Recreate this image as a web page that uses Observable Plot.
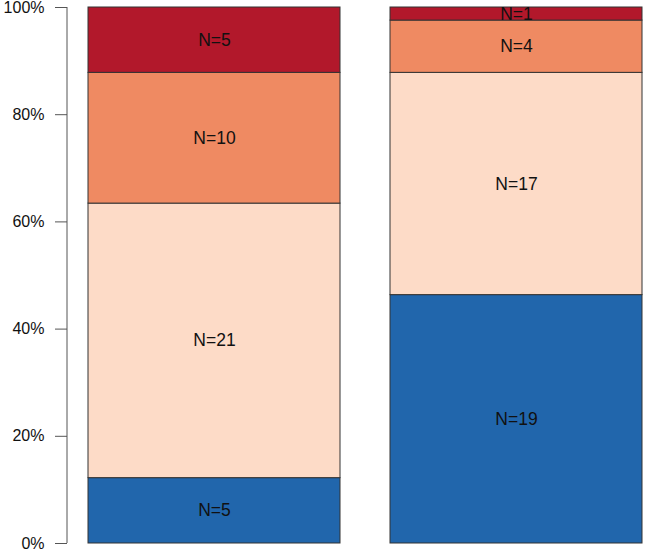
<!DOCTYPE html>
<html>
<head>
<meta charset="utf-8">
<script src="https://cdn.jsdelivr.net/npm/d3@7"></script>
<script src="https://cdn.jsdelivr.net/npm/@observablehq/plot@0.6"></script>
<style>
  html, body { margin: 0; padding: 0; background: #fff; }
  #chart svg { display: block; }
</style>
</head>
<body>
<div id="chart"></div>
<script>
const groups = ["A", "B"];
const categories = ["c1", "c2", "c3", "c4"];
const colors = ["#2166AC", "#FDDBC7", "#EF8A62", "#B2182B"];
const countsA = [5, 21, 10, 5];
const countsB = [19, 17, 4, 1];
const yTicks = [0, 0.2, 0.4, 0.6, 0.8, 1];

const data = [];
[countsA, countsB].forEach((counts, gi) => {
  counts.forEach((n, ci) => data.push({group: groups[gi], category: categories[ci], n}));
});

const font = "Liberation Sans, Arial, Helvetica, sans-serif";

const plot = Plot.plot({
  width: 645,
  height: 552,
  marginLeft: 88,
  marginRight: 3,
  marginTop: 7,
  marginBottom: 9,
  style: {fontFamily: font, fontSize: "16px", background: "#fff"},
  x: {domain: groups, paddingInner: 1/6, paddingOuter: 0, axis: null},
  y: {domain: [0, 1], axis: null},
  color: {domain: categories, range: colors},
  marks: [
    Plot.barY(data, Plot.stackY({
      x: "group", y: "n", fill: "category", offset: "normalize",
      stroke: "#333", strokeWidth: 1, inset: 0
    })),
    Plot.text(data, Plot.stackY({
      x: "group", y: "n", offset: "normalize",
      text: d => "N=" + d.n, fill: "#111", fontSize: 17.5, fontFamily: font
    })),
    Plot.axisY({
      ticks: yTicks, tickFormat: d => Math.round(d * 100) + "%",
      tickSize: 12, tickPadding: 11, dx: -21, label: null,
      fontSize: 16, fontFamily: font, stroke: "#555", fill: "#111"
    })
  ]
});

d3.select(plot).selectAll("text").filter(function() {
  return /%$/.test(this.textContent);
}).attr("font-size", 16);

const y = plot.scale("y");
const svg = d3.select(plot);
svg.append("line")
  .attr("x1", 88 - 21).attr("x2", 88 - 21)
  .attr("y1", y.apply(0)).attr("y2", y.apply(1))
  .attr("stroke", "#555").attr("stroke-width", 1);

document.getElementById("chart").appendChild(plot);
</script>
</body>
</html>
